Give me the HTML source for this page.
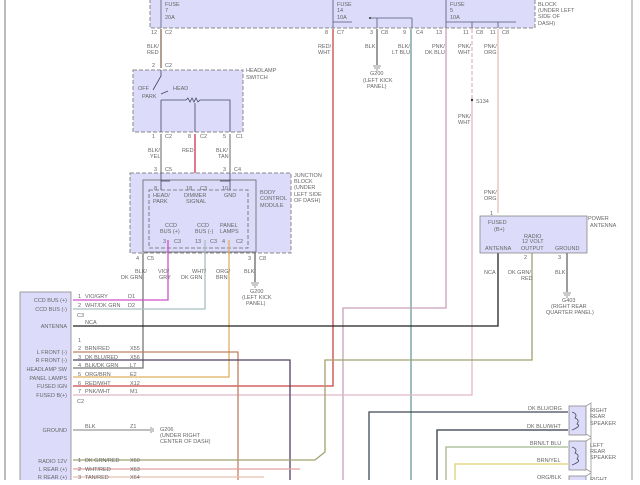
<!DOCTYPE html>
<html><head><meta charset="utf-8"><style>
html,body{margin:0;padding:0;background:#fff}
svg text{font-family:"Liberation Sans",sans-serif;font-size:5.5px;fill:#666}
</style></head><body>
<svg width="640" height="480" viewBox="0 0 640 480" xmlns="http://www.w3.org/2000/svg">
<rect width="640" height="480" fill="#fff"/>
<line x1="5" y1="0" x2="5" y2="480" stroke="#bbb" stroke-width="2"/>
<line x1="632" y1="0" x2="632" y2="480" stroke="#bbb" stroke-width="1.5"/>

<!-- top fuse block -->
<rect x="150" y="-5" width="385" height="33" fill="#dcdcfa" stroke="#888" stroke-dasharray="4,2"/>
<text x="165" y="6">FUSE</text><text x="165" y="12">7</text><text x="165" y="19">20A</text>
<text x="337" y="6">FUSE</text><text x="337" y="12">14</text><text x="337" y="19">10A</text>
<text x="450" y="6">FUSE</text><text x="450" y="12">5</text><text x="450" y="19">10A</text>
<text x="538" y="0">JUNCTION</text><text x="538" y="6">BLOCK</text><text x="538" y="12">(UNDER LEFT</text><text x="538" y="18">SIDE OF</text><text x="538" y="25">DASH)</text>
<g stroke="#557" stroke-width="0.8" fill="none">
<line x1="161" y1="0" x2="161" y2="28"/><line x1="333" y1="0" x2="333" y2="28"/><line x1="446" y1="0" x2="446" y2="28"/>
<line x1="333" y1="22" x2="352" y2="22"/><line x1="446" y1="22" x2="516" y2="22"/>
<line x1="370" y1="18" x2="412" y2="18"/><line x1="377" y1="18" x2="377" y2="28"/><line x1="412" y1="18" x2="412" y2="28"/>
<line x1="472" y1="22" x2="472" y2="28"/><line x1="498" y1="22" x2="498" y2="28"/>
</g>
<circle cx="370" cy="18" r="1" fill="#333"/>
<!-- top connector labels -->
<text x="151" y="34">12</text><text x="165" y="34">C2</text>
<text x="325" y="34">8</text><text x="337" y="34">C7</text>
<text x="370" y="34">3</text><text x="381" y="34">C8</text>
<text x="403" y="34">9</text><text x="416" y="34">C4</text>
<text x="436" y="34">13</text>
<text x="463" y="34">11</text><text x="476" y="34">C8</text>
<text x="490" y="34">11</text><text x="502" y="34">C8</text>
<text x="147" y="48">BLK/</text><text x="147" y="54">RED</text>
<text x="318" y="48">RED/</text><text x="318" y="54">WHT</text>
<text x="365" y="48">BLK</text>
<text x="398" y="48">BLK/</text><text x="392" y="54">LT BLU</text>
<text x="432" y="48">PNK/</text><text x="425" y="54">DK BLU</text>
<text x="458" y="48">PNK/</text><text x="458" y="54">WHT</text>
<text x="484" y="48">PNK/</text><text x="484" y="54">ORG</text>
<text x="370" y="75">G200</text><text x="363" y="82">(LEFT KICK</text><text x="367" y="88">PANEL)</text>
<text x="476" y="103">S134</text><text x="458" y="118">PNK/</text><text x="458" y="124">WHT</text>
<text x="484" y="194">PNK/</text><text x="484" y="200">ORG</text>

<!-- wires top -->
<g fill="none" stroke-width="1.3">
<line x1="161" y1="29" x2="161" y2="68" stroke="#8a6a5a"/>
<polyline points="333,29 333,386 73,386" stroke="#c44"/>
<line x1="377" y1="29" x2="377" y2="65" stroke="#666"/>
<line x1="411" y1="29" x2="411" y2="480" stroke="#6a9a9a"/>
<polyline points="446,29 446,308 343,308 343,480" stroke="#c8a0b8"/>
<line x1="472" y1="29" x2="472" y2="100" stroke="#e0b8c8" stroke-dasharray="4,2"/>
<polyline points="472,100 472,395 73,395" stroke="#e0b8c8"/>
<line x1="498" y1="29" x2="498" y2="213" stroke="#e0c0b8"/>
</g>
<circle cx="472" cy="100" r="1.2" fill="#333"/>
<g stroke="#666" stroke-width="0.7"><line x1="373" y1="66" x2="381" y2="66"/><line x1="374" y1="68" x2="380" y2="68"/><line x1="376" y1="70" x2="378" y2="70"/></g>

<!-- headlamp switch -->
<text x="152" y="67">2</text><text x="165" y="67">C2</text>
<rect x="133" y="70" width="110" height="62" fill="#dcdcfa" stroke="#888" stroke-dasharray="4,2"/>
<text x="246" y="72">HEADLAMP</text><text x="246" y="79">SWITCH</text>
<text x="138" y="90">OFF</text><text x="142" y="98">PARK</text><text x="173" y="90">HEAD</text>
<g stroke="#446" stroke-width="0.8" fill="none">
<polyline points="161,70 161,76 153,90"/>
<line x1="161" y1="94" x2="168" y2="91"/>
<polyline points="161,100 186,100 188,98 190,102 192,98 194,102 196,98 198,102 200,100 230,100 230,132"/>
<line x1="161" y1="100" x2="161" y2="132"/><line x1="195" y1="103" x2="195" y2="132"/>
</g>
<text x="152" y="138">1</text><text x="165" y="138">C2</text>
<text x="188" y="138">8</text><text x="200" y="138">C2</text>
<text x="223" y="138">5</text><text x="236" y="138">C1</text>
<line x1="161" y1="134" x2="161" y2="172" stroke="#888" stroke-width="1.3"/>
<line x1="195" y1="134" x2="195" y2="195" stroke="#d03050" stroke-width="1.3"/>
<line x1="230" y1="134" x2="230" y2="172" stroke="#888" stroke-width="1.3"/>
<text x="148" y="152">BLK/</text><text x="150" y="158">YEL</text>
<text x="182" y="152">RED</text>
<text x="216" y="152">BLK/</text><text x="218" y="158">TAN</text>
<text x="154" y="171">3</text><text x="165" y="171">C5</text>
<text x="223" y="171">3</text><text x="234" y="171">C4</text>

<!-- junction block -->
<rect x="130" y="173" width="161" height="80" fill="#dcdcfa" stroke="#888" stroke-dasharray="4,2"/>
<rect x="143" y="180" width="113" height="72" fill="none" stroke="#666" stroke-width="0.8"/>
<rect x="149" y="190" width="99" height="58" fill="none" stroke="#666" stroke-width="0.8" stroke-dasharray="4,2"/>
<text x="294" y="177">JUNCTION</text><text x="294" y="183">BLOCK</text><text x="294" y="189">(UNDER</text><text x="294" y="196">LEFT SIDE</text><text x="294" y="202">OF DASH)</text>
<text x="260" y="194">BODY</text><text x="260" y="200">CONTROL</text><text x="260" y="207">MODULE</text>
<line x1="161" y1="172" x2="161" y2="190" stroke="#446" stroke-width="0.8"/>
<line x1="230" y1="172" x2="230" y2="190" stroke="#446" stroke-width="0.8"/>
<line x1="161" y1="181" x2="170" y2="181" stroke="#446" stroke-width="0.8"/>
<line x1="220" y1="181" x2="230" y2="181" stroke="#446" stroke-width="0.8"/>
<text x="154" y="190">8</text><text x="186" y="190">18</text><text x="200" y="190">C3</text><text x="222" y="190">10</text>
<text x="153" y="197">HEAD/</text><text x="153" y="203">PARK</text>
<text x="184" y="197">DIMMER</text><text x="186" y="203">SIGNAL</text>
<text x="224" y="197">GND</text>
<text x="165" y="227">CCD</text><text x="160" y="233">BUS (+)</text>
<text x="197" y="227">CCD</text><text x="195" y="233">BUS (-)</text>
<text x="220" y="227">PANEL</text><text x="220" y="233">LAMPS</text>
<text x="163" y="243">3</text><text x="174" y="243">C3</text>
<text x="195" y="243">13</text><text x="210" y="243">C3</text>
<text x="222" y="243">4</text><text x="236" y="243">C2</text>
<text x="136" y="260">4</text><text x="147" y="260">C5</text>
<text x="248" y="260">3</text><text x="259" y="260">C8</text>

<!-- wires from JB -->
<g fill="none" stroke-width="1.3">
<polyline points="143,253 143,368 73,368" stroke="#777"/>
<polyline points="168,240 168,300 73,300" stroke="#d050c8"/>
<polyline points="205,240 205,309 73,309" stroke="#a8c0c0"/>
<polyline points="229,240 229,377 73,377" stroke="#e0b060"/>
<line x1="255" y1="253" x2="255" y2="282" stroke="#666"/>
<polyline points="73,352 238,352 238,480" stroke="#c08060"/>
<polyline points="73,360 290,360 290,480" stroke="#504060"/>
<polyline points="73,326 498,326 498,253" stroke="#222"/>
<polyline points="73,460 315,460 325,452 325,360 532,360 532,253" stroke="#a0a070"/>
<polyline points="73,469 300,469" stroke="#e0a0a0"/>
<polyline points="73,477 264,477" stroke="#e8c0b0"/>
<line x1="73" y1="430" x2="150" y2="430" stroke="#555" stroke-width="0.8"/>
<line x1="567" y1="253" x2="567" y2="292" stroke="#666"/>
<polyline points="568,412 369,412 369,480" stroke="#404858"/>
<polyline points="568,430 437,430 437,480" stroke="#303848"/>
<polyline points="568,447 446,447 446,480" stroke="#a0b890"/>
<polyline points="568,464 455,464 455,480" stroke="#e0d070"/>
</g>
<g stroke="#666" stroke-width="0.7"><line x1="251" y1="283" x2="259" y2="283"/><line x1="252" y1="285" x2="258" y2="285"/><line x1="254" y1="287" x2="256" y2="287"/>
<line x1="563" y1="293" x2="571" y2="293"/><line x1="564" y1="295" x2="570" y2="295"/><line x1="566" y1="297" x2="568" y2="297"/>
<line x1="151" y1="427" x2="151" y2="433"/><line x1="153" y1="428" x2="153" y2="432"/></g>
<text x="135" y="273">BLK/</text><text x="121" y="279">DK GRN</text>
<text x="158" y="273">VIO/</text><text x="159" y="279">GRY</text>
<text x="192" y="273">WHT/</text><text x="181" y="279">DK GRN</text>
<text x="216" y="273">ORG/</text><text x="216" y="279">BRN</text>
<text x="244" y="273">BLK</text>
<text x="250" y="293">G200</text><text x="242" y="299">(LEFT KICK</text><text x="246" y="305">PANEL)</text>

<!-- radio left -->
<rect x="20" y="292" width="51" height="192" fill="#dcdcfa" stroke="#888" stroke-width="0.8"/>
<g text-anchor="end">
<text x="67" y="302">CCD BUS (+)</text><text x="67" y="311">CCD BUS (-)</text>
<text x="67" y="328">ANTENNA</text>
<text x="67" y="354">L FRONT (-)</text><text x="67" y="362">R FRONT (-)</text>
<text x="67" y="371">HEADLAMP SW</text><text x="67" y="380">PANEL LAMPS</text>
<text x="67" y="388">FUSED IGN</text><text x="67" y="397">FUSED B(+)</text>
<text x="67" y="432">GROUND</text>
<text x="67" y="463">RADIO 12V</text><text x="67" y="471">L REAR (+)</text><text x="67" y="479">R REAR (+)</text>
</g>
<text x="78" y="298">1</text><text x="85" y="298">VIO/GRY</text><text x="128" y="298">D1</text>
<text x="78" y="307">2</text><text x="85" y="307">WHT/DK GRN</text><text x="128" y="307">D2</text>
<text x="77" y="317">C3</text><text x="85" y="324">NCA</text>
<text x="78" y="342">1</text>
<text x="78" y="350">2</text><text x="85" y="350">BRN/RED</text><text x="130" y="350">X55</text>
<text x="78" y="359">3</text><text x="85" y="359">DK BLU/RED</text><text x="130" y="359">X56</text>
<text x="78" y="367">4</text><text x="85" y="367">BLK/DK GRN</text><text x="130" y="367">L7</text>
<text x="78" y="376">5</text><text x="85" y="376">ORG/BRN</text><text x="130" y="376">E2</text>
<text x="78" y="385">6</text><text x="85" y="385">RED/WHT</text><text x="130" y="385">X12</text>
<text x="78" y="393">7</text><text x="85" y="393">PNK/WHT</text><text x="130" y="393">M1</text>
<text x="77" y="403">C2</text>
<text x="85" y="428">BLK</text><text x="130" y="428">Z1</text>
<text x="160" y="431">G206</text><text x="160" y="437">(UNDER RIGHT</text><text x="160" y="443">CENTER OF DASH)</text>
<text x="78" y="462">1</text><text x="85" y="462">DK GRN/RED</text><text x="130" y="462">X60</text>
<text x="78" y="471">2</text><text x="85" y="471">WHT/RED</text><text x="130" y="471">X63</text>
<text x="78" y="479">3</text><text x="85" y="479">TAN/RED</text><text x="130" y="479">X64</text>

<!-- radio right -->
<text x="490" y="215">1</text>
<rect x="480" y="216" width="107" height="37" fill="#dcdcfa" stroke="#888" stroke-width="0.8"/>
<text x="588" y="220">POWER</text><text x="590" y="227">ANTENNA</text>
<text x="488" y="224">FUSED</text><text x="494" y="231">(B+)</text>
<text x="524" y="238">RADIO</text><text x="522" y="243">12 VOLT</text><text x="521" y="250">OUTPUT</text>
<text x="485" y="250">ANTENNA</text><text x="555" y="250">GROUND</text>
<text x="524" y="259">2</text><text x="558" y="259">3</text>
<text x="484" y="274">NCA</text><text x="508" y="274">DK GRN/</text><text x="521" y="280">RED</text>
<text x="555" y="274">BLK</text>
<text x="562" y="302">G403</text><text x="551" y="308">(RIGHT REAR</text><text x="546" y="314">QUARTER PANEL)</text>

<!-- speakers -->
<g fill="#dcdcfa" stroke="#888" stroke-width="0.8">
<rect x="569" y="406" width="17" height="29"/><rect x="569" y="441" width="17" height="29"/><rect x="569" y="476" width="17" height="10"/>
</g>
<g fill="none" stroke="#999" stroke-width="0.8">
<polyline points="586,406 591,403 591,437 586,434"/><polyline points="586,441 591,438 591,472 586,469"/><polyline points="586,476 591,473 591,482"/>
<path d="M572,412 q6,2 3,6 q5,2 2,6 q5,2 -5,6" stroke="#446"/>
<path d="M572,447 q6,2 3,6 q5,2 2,6 q5,2 -5,6" stroke="#446"/>
</g>
<text x="590" y="412">RIGHT</text><text x="590" y="418">REAR</text><text x="590" y="425">SPEAKER</text>
<text x="590" y="447">LEFT</text><text x="590" y="453">REAR</text><text x="590" y="459">SPEAKER</text>
<text x="590" y="481">RIGHT</text>
<text x="528" y="410">DK BLU/ORG</text><text x="527" y="428">DK BLU/WHT</text>
<text x="530" y="445">BRN/LT BLU</text><text x="537" y="462">BRN/YEL</text><text x="537" y="479">ORG/BLK</text>
</svg>
</body></html>
